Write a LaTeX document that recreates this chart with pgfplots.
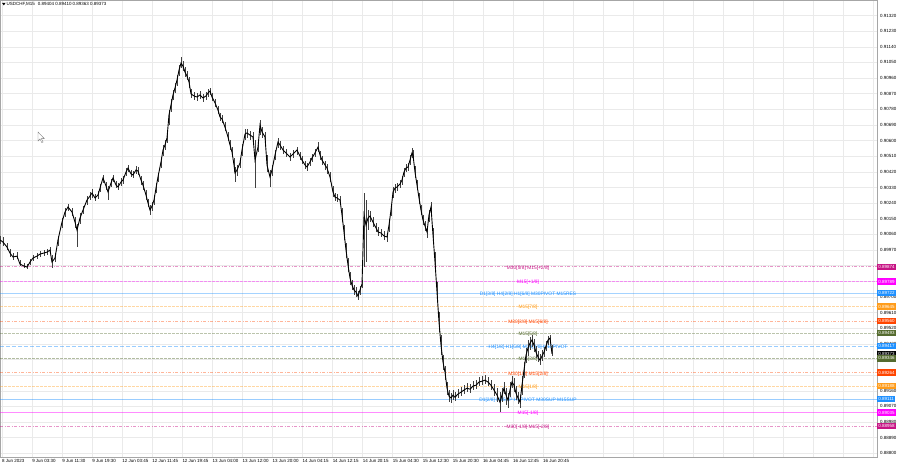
\documentclass[border=0pt]{standalone}
\usepackage{fontspec}
\setmainfont{Liberation Sans}
\usepackage{pgfplots}
\usepackage{pgfplotstable}
\pgfplotsset{compat=1.18}

\definecolor{mvr}{HTML}{C71585}
\definecolor{mag}{HTML}{FF00FF}
\definecolor{dblue}{HTML}{1E90FF}
\definecolor{orng}{HTML}{FF9C1A}
\definecolor{ored}{HTML}{FF4500}
\definecolor{olv}{HTML}{556B2F}
\definecolor{gridc}{HTML}{EAEAEA}

\newcommand\mt{\fontsize{4.5}{5}\selectfont}
\newcommand\lv{\fontsize{4.9}{5.5}\selectfont}

% M15 bars, x in chart pixels, close / high / low
\pgfplotstableread{
x c hi lo
0 0.90028 0.90051 0.90005
3 0.90016 0.90045 0.89993
7 0.89987 0.90010 0.89970
10 0.89953 0.89976 0.89930
13 0.89930 0.89953 0.89912
17 0.89935 0.89958 0.89918
20 0.89889 0.89912 0.89878
24 0.89878 0.89895 0.89866
27 0.89872 0.89889 0.89861
30 0.89901 0.89918 0.89884
33 0.89924 0.89941 0.89907
37 0.89935 0.89953 0.89918
40 0.89947 0.89964 0.89930
44 0.89953 0.89970 0.89935
47 0.89958 0.89976 0.89941
50 0.89970 0.89987 0.89947
52 0.89901 0.89941 0.89866
55 0.89924 0.89953 0.89901
58 0.90028 0.90051 0.89993
62 0.90131 0.90154 0.90097
65 0.90189 0.90212 0.90160
68 0.90218 0.90235 0.90195
72 0.90189 0.90212 0.90166
75 0.90131 0.90160 0.90097
77 0.90085 0.90120 0.89987
80 0.90154 0.90183 0.90120
83 0.90200 0.90223 0.90177
87 0.90258 0.90281 0.90229
90 0.90281 0.90304 0.90258
92 0.90298 0.90321 0.90270
95 0.90270 0.90293 0.90252
98 0.90287 0.90310 0.90264
100 0.90327 0.90350 0.90304
103 0.90385 0.90402 0.90356
106 0.90339 0.90362 0.90316
108 0.90304 0.90339 0.90258
111 0.90356 0.90379 0.90333
113 0.90385 0.90402 0.90362
116 0.90344 0.90367 0.90327
118 0.90333 0.90356 0.90316
121 0.90362 0.90385 0.90339
123 0.90373 0.90396 0.90350
126 0.90419 0.90442 0.90396
128 0.90442 0.90460 0.90419
131 0.90408 0.90431 0.90391
133 0.90402 0.90425 0.90385
136 0.90431 0.90454 0.90408
138 0.90425 0.90448 0.90402
141 0.90373 0.90396 0.90344
143 0.90344 0.90367 0.90316
146 0.90287 0.90316 0.90258
148 0.90241 0.90264 0.90218
150 0.90200 0.90229 0.90172
152 0.90223 0.90246 0.90195
154 0.90258 0.90287 0.90229
156 0.90327 0.90356 0.90298
158 0.90391 0.90414 0.90362
161 0.90477 0.90506 0.90442
163 0.90546 0.90575 0.90511
165 0.90575 0.90604 0.90546
167 0.90615 0.90644 0.90586
169 0.90748 0.90776 0.90690
171 0.90805 0.90840 0.90765
173 0.90863 0.90892 0.90834
175 0.90903 0.90932 0.90874
177 0.90949 0.90977 0.90915
179 0.91006 0.91035 0.90971
181 0.91046 0.91081 0.91017
183 0.91029 0.91058 0.91000
185 0.90994 0.91023 0.90966
187 0.90971 0.91000 0.90949
189 0.90938 0.90966 0.90903
191 0.90869 0.90897 0.90846
194 0.90857 0.90880 0.90834
197 0.90851 0.90874 0.90828
200 0.90863 0.90886 0.90840
203 0.90846 0.90869 0.90822
206 0.90857 0.90880 0.90834
208 0.90874 0.90897 0.90851
210 0.90886 0.90903 0.90863
212 0.90851 0.90874 0.90828
215 0.90817 0.90840 0.90794
218 0.90776 0.90799 0.90753
220 0.90736 0.90759 0.90713
222 0.90725 0.90748 0.90702
225 0.90678 0.90707 0.90655
228 0.90621 0.90650 0.90598
230 0.90575 0.90604 0.90546
232 0.90534 0.90563 0.90506
234 0.90460 0.90500 0.90419
235 0.90414 0.90448 0.90362
237 0.90431 0.90460 0.90396
240 0.90471 0.90500 0.90442
242 0.90546 0.90581 0.90511
245 0.90638 0.90667 0.90604
247 0.90644 0.90667 0.90615
250 0.90632 0.90655 0.90604
253 0.90621 0.90650 0.90592
255 0.90488 0.90604 0.90327
258 0.90563 0.90592 0.90534
260 0.90690 0.90719 0.90632
262 0.90650 0.90678 0.90615
265 0.90621 0.90650 0.90575
267 0.90460 0.90517 0.90419
270 0.90391 0.90431 0.90333
272 0.90431 0.90460 0.90396
275 0.90517 0.90546 0.90488
278 0.90592 0.90615 0.90558
280 0.90575 0.90598 0.90546
283 0.90546 0.90569 0.90523
286 0.90529 0.90552 0.90506
290 0.90506 0.90529 0.90483
293 0.90523 0.90546 0.90500
297 0.90546 0.90563 0.90517
300 0.90511 0.90534 0.90488
302 0.90488 0.90511 0.90465
305 0.90460 0.90483 0.90437
307 0.90448 0.90471 0.90425
310 0.90477 0.90500 0.90454
312 0.90500 0.90523 0.90477
315 0.90529 0.90552 0.90506
318 0.90563 0.90592 0.90534
320 0.90517 0.90540 0.90488
322 0.90488 0.90511 0.90460
325 0.90460 0.90483 0.90431
327 0.90442 0.90465 0.90408
330 0.90391 0.90419 0.90362
333 0.90304 0.90339 0.90275
335 0.90275 0.90298 0.90252
337 0.90270 0.90293 0.90246
340 0.90258 0.90281 0.90235
342 0.90172 0.90212 0.90131
344 0.90074 0.90114 0.90028
346 0.89970 0.90010 0.89924
348 0.89884 0.89924 0.89843
350 0.89809 0.89843 0.89768
352 0.89768 0.89797 0.89740
354 0.89740 0.89768 0.89711
356 0.89728 0.89757 0.89699
358 0.89705 0.89734 0.89682
360 0.89740 0.89763 0.89711
362 0.89774 0.89797 0.89751
364 0.90172 0.90298 0.89872
366 0.90114 0.90258 0.89901
368 0.90154 0.90200 0.90085
370 0.90166 0.90195 0.90131
373 0.90131 0.90160 0.90102
376 0.90097 0.90125 0.90074
378 0.90074 0.90102 0.90051
381 0.90068 0.90091 0.90045
384 0.90051 0.90079 0.90028
387 0.90045 0.90068 0.90016
389 0.90114 0.90149 0.90074
391 0.90200 0.90229 0.90166
393 0.90304 0.90333 0.90270
395 0.90327 0.90350 0.90298
397 0.90333 0.90356 0.90310
400 0.90350 0.90373 0.90327
402 0.90373 0.90396 0.90344
404 0.90419 0.90442 0.90391
406 0.90442 0.90465 0.90419
408 0.90448 0.90471 0.90425
410 0.90488 0.90517 0.90460
412 0.90529 0.90558 0.90500
413 0.90517 0.90546 0.90488
415 0.90419 0.90454 0.90385
417 0.90344 0.90373 0.90316
419 0.90270 0.90298 0.90235
421 0.90200 0.90229 0.90172
423 0.90143 0.90172 0.90114
425 0.90108 0.90137 0.90079
427 0.90074 0.90102 0.90039
429 0.90172 0.90200 0.90131
431 0.90218 0.90246 0.90183
433 0.90056 0.90097 0.90016
435 0.89901 0.89958 0.89843
437 0.89728 0.89786 0.89670
439 0.89555 0.89613 0.89498
441 0.89423 0.89480 0.89365
443 0.89325 0.89365 0.89279
445 0.89267 0.89302 0.89221
447 0.89175 0.89210 0.89135
449 0.89129 0.89164 0.89094
451 0.89118 0.89146 0.89089
453 0.89135 0.89164 0.89106
455 0.89123 0.89152 0.89100
458 0.89141 0.89169 0.89118
461 0.89152 0.89181 0.89129
464 0.89164 0.89192 0.89141
467 0.89175 0.89204 0.89152
470 0.89169 0.89198 0.89146
473 0.89187 0.89215 0.89164
476 0.89192 0.89221 0.89169
479 0.89210 0.89238 0.89187
482 0.89215 0.89244 0.89192
485 0.89221 0.89250 0.89198
488 0.89210 0.89238 0.89187
491 0.89192 0.89221 0.89164
494 0.89164 0.89198 0.89129
497 0.89135 0.89175 0.89094
500 0.89094 0.89152 0.89037
502 0.89135 0.89175 0.89094
504 0.89175 0.89210 0.89141
506 0.89135 0.89175 0.89077
508 0.89106 0.89146 0.89060
510 0.89164 0.89210 0.89123
512 0.89210 0.89244 0.89175
514 0.89192 0.89233 0.89152
516 0.89146 0.89187 0.89106
518 0.89118 0.89152 0.89083
520 0.89094 0.89135 0.89060
522 0.89192 0.89244 0.89135
524 0.89279 0.89325 0.89233
526 0.89365 0.89406 0.89319
528 0.89406 0.89452 0.89359
530 0.89434 0.89469 0.89394
532 0.89452 0.89480 0.89411
534 0.89423 0.89457 0.89382
536 0.89382 0.89417 0.89348
538 0.89354 0.89388 0.89325
540 0.89336 0.89371 0.89308
542 0.89359 0.89394 0.89331
544 0.89382 0.89411 0.89354
546 0.89417 0.89446 0.89388
548 0.89452 0.89475 0.89423
550 0.89463 0.89480 0.89434
552 0.89373 0.89423 0.89359
}\pricedata

\begin{document}
\begin{tikzpicture}
\begin{axis}[
    set layers,
    at={(0,0)}, anchor=north west,
    scale only axis,
    width=877bp, height=457bp,
    xmin=0, xmax=877,
    ymin=0.887786, ymax=0.914095,
    clip=false,
    axis line style={gray!70, line width=0.5bp},
    grid=major,
    grid style={gridc, line width=0.5bp},
    major tick length=0pt,
    xtick={2,32.05,...,874},
    xticklabels={8 Jun 2023, 9 Jun 03:30, 9 Jun 11:30, 9 Jun 19:30, 12 Jun 03:45, 12 Jun 11:45, 12 Jun 19:45, 13 Jun 04:00, 13 Jun 12:00, 13 Jun 20:00, 14 Jun 04:15, 14 Jun 12:15, 14 Jun 20:15, 15 Jun 04:30, 15 Jun 12:30, 15 Jun 20:30, 16 Jun 04:45, 16 Jun 12:45, 16 Jun 20:45,,,,,,,,,,,},
    xticklabel style={font=\mt, anchor=north west, inner sep=0pt, yshift=-2.5bp},
    ytick={0.88800,0.88890,0.88980,0.89070,0.89160,0.89250,0.89340,0.89430,0.89520,0.89610,0.89700,0.89790,0.89880,0.89970,0.90060,0.90150,0.90240,0.90330,0.90420,0.90510,0.90600,0.90690,0.90780,0.90870,0.90960,0.91050,0.91140,0.91230,0.91320,0.91410},
    yticklabels={0.88800,0.88890,0.88980,0.89070,0.89160,,,0.89430,0.89520,0.89610,0.89700,,,0.89970,0.90060,0.90150,0.90240,0.90330,0.90420,0.90510,0.90600,0.90690,0.90780,0.90870,0.90960,0.91050,0.91140,0.91230,0.91320,0.91410},
    yticklabel pos=right,
    yticklabel style={font=\mt, anchor=west, inner sep=0pt, xshift=3bp},
]
% level lines
\addplot[mvr, opacity=0.45, line width=0.5bp, dash pattern=on 3bp off 1.5bp on 1bp off 1.5bp] coordinates {(0,0.89874) (877,0.89874)};
\addplot[mag, opacity=0.4, line width=0.5bp, dash pattern=on 2.5bp off 1.5bp] coordinates {(0,0.89789) (877,0.89789)};
\addplot[dblue, opacity=0.4, line width=0.5bp] coordinates {(0,0.89722) (877,0.89722)};
\addplot[orng, opacity=0.4, line width=0.5bp, dash pattern=on 2.5bp off 1.5bp] coordinates {(0,0.89645) (877,0.89645)};
\addplot[ored, opacity=0.4, line width=0.5bp, dash pattern=on 3bp off 1.5bp on 1bp off 1.5bp] coordinates {(0,0.89560) (877,0.89560)};
\addplot[olv, opacity=0.4, line width=0.5bp, dash pattern=on 2.5bp off 1.5bp] coordinates {(0,0.89493) (877,0.89493)};
\addplot[dblue, opacity=0.45, line width=0.5bp, dash pattern=on 4bp off 2bp] coordinates {(0,0.89417) (877,0.89417)};
\addplot[olv, opacity=0.45, line width=0.5bp, dash pattern=on 2.5bp off 1.5bp] coordinates {(0,0.89346) (877,0.89346)};
\addplot[ored, opacity=0.4, line width=0.5bp, dash pattern=on 3bp off 1.5bp on 1bp off 1.5bp] coordinates {(0,0.89264) (877,0.89264)};
\addplot[orng, opacity=0.4, line width=0.5bp, dash pattern=on 2.5bp off 1.5bp] coordinates {(0,0.89188) (877,0.89188)};
\addplot[dblue, opacity=0.45, line width=0.5bp] coordinates {(0,0.89111) (877,0.89111)};
\addplot[mag, opacity=0.45, line width=0.5bp] coordinates {(0,0.89035) (877,0.89035)};
\addplot[mvr, opacity=0.45, line width=0.5bp, dash pattern=on 3bp off 1.5bp on 1bp off 1.5bp] coordinates {(0,0.88958) (877,0.88958)};

% level texts
\begin{scope}[every node/.style={font=\lv, inner sep=0pt, yshift=-1.2bp}]
\node[text=mvr] at (axis cs:528,0.89874) {M30[5/8] M15[+2/8]};
\node[text=mag] at (axis cs:528,0.89789) {M15[+1/8]};
\node[text=dblue] at (axis cs:528,0.89722) {D1[3/8] H4[2/8] H1[6/8] M30PIVOT M15RES};
\node[text=orng] at (axis cs:528,0.89645) {M15[7/8]};
\node[text=ored] at (axis cs:528,0.89560) {M30[3/8] M15[6/8]};
\node[text=olv] at (axis cs:528,0.89493) {M15[5/8]};
\node[text=dblue] at (axis cs:528,0.89417) {H4[1/8] H1[5/8] M30[2/8] M15PIVOT};
\node[text=olv] at (axis cs:528,0.89346) {M15[3/8]};
\node[text=ored] at (axis cs:528,0.89264) {M30[1/8] M15[2/8]};
\node[text=orng] at (axis cs:528,0.89188) {M15[1/8]};
\node[text=dblue] at (axis cs:528,0.89111) {D1[2/8] H4SUP H1PIVOT M30SUP M15SUP};
\node[text=mag] at (axis cs:528,0.89035) {M15[-1/8]};
\node[text=mvr] at (axis cs:528,0.88958) {M30[-1/8] M15[-2/8]};
\end{scope}

% price: high-low ranges and close line
\addplot[draw=none, mark=none, error bars/.cd, y dir=both, y explicit, error mark=none,
    error bar style={black!75, line width=0.7bp}]
    table[x=x, y=c, y error plus expr=\thisrow{hi}-\thisrow{c}, y error minus expr=\thisrow{c}-\thisrow{lo}] {\pricedata};
\addplot[black, line width=0.9bp, mark=none] table[x=x, y=c] {\pricedata};

% price boxes on the scale
\begin{scope}[every node/.style={font=\mt, text=white, anchor=west, inner xsep=1.2bp, inner ysep=0pt, minimum height=6.4bp}]
\node[fill=mvr] at (axis cs:877,0.89874) {0.89874};
\node[fill=mag] at (axis cs:877,0.89789) {0.89789};
\node[fill=dblue] at (axis cs:877,0.89722) {0.89722};
\node[fill=orng] at (axis cs:877,0.89645) {0.89645};
\node[fill=ored] at (axis cs:877,0.89560) {0.89560};
\node[fill=olv] at (axis cs:877,0.89493) {0.89493};
\node[fill=dblue] at (axis cs:877,0.89417) {0.89417};
\node[fill=black] at (axis cs:877,0.89373) {0.89373};
\node[fill=olv] at (axis cs:877,0.89346) {0.89346};
\node[fill=ored] at (axis cs:877,0.89264) {0.89264};
\node[fill=orng] at (axis cs:877,0.89188) {0.89188};
\node[fill=dblue] at (axis cs:877,0.89111) {0.89111};
\node[fill=mag] at (axis cs:877,0.89035) {0.89035};
\node[fill=mvr] at (axis cs:877,0.88958) {0.88958};
\end{scope}
\end{axis}

% symbol header and chart cursor
\fill[black] (2bp,-2.8bp) -- (5.6bp,-2.8bp) -- (3.8bp,-5.4bp) -- cycle;
\node[font=\mt, anchor=west, inner sep=0pt] at (6.5bp,-4.2bp) {USDCHF,M15\hspace{3bp}0.89404 0.89410 0.89363 0.89373};
\draw[gray, line width=0.4bp, fill=white] (38bp,-132bp) -- ++(0,-9bp) -- ++(2bp,2bp) -- ++(1.8bp,-3.6bp) -- ++(1.3bp,0.6bp) -- ++(-1.8bp,3.4bp) -- ++(3bp,0) -- cycle;

\pgfresetboundingbox
\path[use as bounding box] (0,0) rectangle (900bp,-468bp);
\end{tikzpicture}
\end{document}
